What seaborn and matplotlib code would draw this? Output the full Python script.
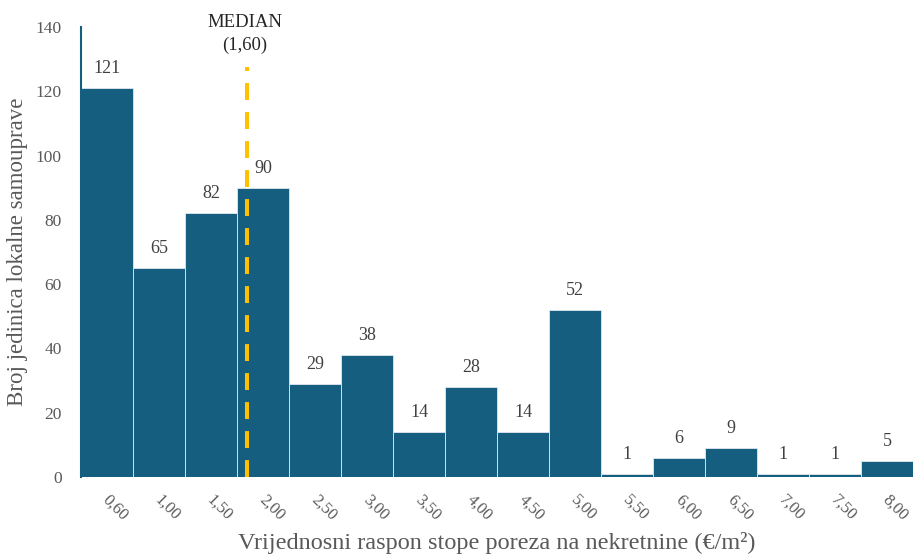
import matplotlib
matplotlib.use("Agg")
import matplotlib.pyplot as plt
import matplotlib.transforms as mtransforms
import seaborn as sns
import pandas as pd

categories = ["0,60", "1,00", "1,50", "2,00", "2,50", "3,00", "3,50", "4,00",
              "4,50", "5,00", "5,50", "6,00", "6,50", "7,00", "7,50", "8,00"]
counts = [121, 65, 82, 90, 29, 38, 14, 28, 14, 52, 1, 6, 9, 1, 1, 5]
y_ticks = [0, 20, 40, 60, 80, 100, 120, 140]
median_value = 1.60
median_label = "MEDIAN\n(1,60)"
x_title = "Vrijednosni raspon stope poreza na nekretnine (€/m²)"
y_title = "Broj jedinica lokalne samouprave"

sns.set_theme(style="white")
plt.rcParams["font.family"] = ["Liberation Serif", "DejaVu Serif"]

bar_color = "#165E80"
text_color = "#404040"
grey = "#595959"

df = pd.DataFrame({"cat": categories, "n": counts})

fig = plt.figure(figsize=(9.14, 5.58), dpi=100)
ax = fig.add_axes([81 / 914, 81 / 558, 832 / 914, 450 / 558])
sns.barplot(data=df, x="cat", y="n", color=bar_color, saturation=1, width=1,
            edgecolor="#dfe8ee", linewidth=0.6, ax=ax)

ax.set_xlim(-0.5, len(categories) - 0.5)
ax.set_ylim(0, 140)
ax.set_yticks(y_ticks)
ax.set_yticklabels([str(t) for t in y_ticks], fontsize=12.5, color=grey)
ax.tick_params(axis="y", length=0, pad=14)
ax.tick_params(axis="x", length=0, pad=11)
shift = mtransforms.ScaledTranslation(4 / 100, 0, fig.dpi_scale_trans)
for lab in ax.get_xticklabels():
    lab.set_rotation(-45)
    lab.set_ha("left")
    lab.set_rotation_mode("anchor")
    lab.set_fontsize(12)
    lab.set_color(grey)
    lab.set_transform(lab.get_transform() + shift)

for s in ["top", "right", "bottom"]:
    ax.spines[s].set_visible(False)
ax.spines["left"].set_color(bar_color)
ax.spines["left"].set_linewidth(1.5)

for i, v in enumerate(counts):
    ax.annotate(str(v), (i, v), xytext=(0, 8), textcoords="offset points",
                ha="center", va="bottom", fontsize=13, color=text_color)

# median position: bin index 3 covers 1.50-2.00
median_pos = 3 - 0.5 + (median_value - 1.50) / 0.5
ax.plot([median_pos, median_pos], [0, 127.5], color="#FFC000", lw=2.9,
        linestyle=(0, (4.2, 3.0)), clip_on=False, zorder=5)
ax.text(median_pos - 0.05, 131.5, median_label, ha="center", va="bottom",
        fontsize=13.5, color="#262626", linespacing=1.45, clip_on=False)

ax.set_xlabel(x_title, fontsize=17.5, color=grey, va="center")
ax.xaxis.set_label_coords(0.5, (477 - 543) / 450)
ax.set_ylabel(y_title, fontsize=16.5, color=grey, va="center")
ax.yaxis.set_label_coords((18 - 81) / 832, 0.5)

fig.savefig("out.png", dpi=100)
